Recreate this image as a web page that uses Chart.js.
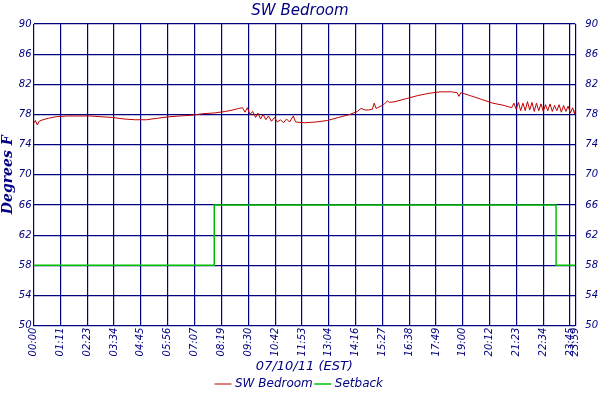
<!DOCTYPE html>
<html>
<head>
<script src="https://cdn.jsdelivr.net/npm/chart.js@4"></script>
<style>body{margin:0;background:#fff}#wrap{width:600px;height:400px}</style>
</head>
<body>
<div id="wrap"><canvas id="c"></canvas></div>
<script>
const tempTimes = [0,5,10,15,25,40,60,90,120,150,180,210,240,270,300,330,360,390,420,450,480,510,530,545,555,562,568,575,582,590,596,603,610,617,624,632,640,648,656,664,672,680,690,696,720,750,780,810,840,860,870,880,890,900,905,910,930,940,945,960,990,1020,1050,1080,1110,1125,1130,1135,1160,1190,1220,1250,1270,1276,1282,1288,1294,1300,1306,1312,1318,1324,1330,1336,1342,1348,1354,1360,1366,1372,1378,1384,1390,1396,1402,1408,1414,1420,1426,1432,1437,1439];
const tempValues = [76.8,77.2,76.6,77.1,77.3,77.5,77.7,77.8,77.8,77.8,77.7,77.6,77.4,77.3,77.3,77.5,77.7,77.8,77.9,78.1,78.2,78.4,78.6,78.8,78.9,78.3,78.9,78.0,78.4,77.6,78.2,77.4,78.0,77.3,77.8,77.1,77.6,77.0,77.3,76.9,77.4,77.0,77.8,77.0,76.9,77.0,77.2,77.6,78.0,78.4,78.8,78.6,78.6,78.7,79.5,78.8,79.3,79.8,79.6,79.7,80.1,80.5,80.8,81.0,81.0,80.9,80.4,80.9,80.5,80.0,79.5,79.2,78.9,79.5,78.7,79.6,78.5,79.5,78.5,79.7,78.6,79.6,78.4,79.5,78.5,79.4,78.4,79.3,78.5,79.4,78.4,79.2,78.5,79.3,78.3,79.2,78.4,79.1,78.2,78.9,78.1,78.6];
const setbackTimes = [0,480,1388,1439];
const setbackValues = [58,66,58,58];
const tickMinutes = [0,71,143,214,285,356,427,499,570,642,713,784,856,927,998,1069,1140,1212,1283,1354,1425,1439];
const tickLabels = ['00:00','01:11','02:23','03:34','04:45','05:56','07:07','08:19','09:30','10:42','11:53','13:04','14:16','15:27','16:38','17:49','19:00','20:12','21:23','22:34','23:45','23:59'];

const navy = '#000080';
const tickFont = {family: 'DejaVu Sans', style: 'italic', size: 10};
const toXY = (xs, ys) => xs.map((x, i) => ({x: x, y: ys[i]}));

new Chart(document.getElementById('c'), {
  type: 'line',
  data: {
    datasets: [{
      label: 'SW Bedroom',
      data: toXY(tempTimes, tempValues),
      borderColor: '#c00000',
      borderWidth: 1,
      pointRadius: 0,
      tension: 0
    }, {
      label: 'Setback',
      data: toXY(setbackTimes, setbackValues),
      borderColor: '#00c000',
      borderWidth: 1.5,
      pointRadius: 0,
      stepped: 'before'
    }]
  },
  options: {
    responsive: true,
    maintainAspectRatio: false,
    animation: false,
    layout: {padding: {left: 0, right: 0, top: 0, bottom: 0}},
    plugins: {
      title: {
        display: true,
        text: 'SW Bedroom',
        color: navy,
        font: {family: 'DejaVu Sans', style: 'italic', weight: 'normal', size: 15},
        padding: {top: 2, bottom: 4}
      },
      legend: {
        position: 'bottom',
        labels: {
          color: navy,
          font: {family: 'DejaVu Sans', style: 'italic', size: 12},
          usePointStyle: true,
          pointStyle: 'line',
          boxWidth: 16,
          padding: 4
        }
      },
      tooltip: {enabled: false}
    },
    scales: {
      x: {
        type: 'linear',
        min: 0,
        max: 1439,
        afterBuildTicks: axis => { axis.ticks = tickMinutes.map(v => ({value: v})); },
        ticks: {
          color: navy,
          font: tickFont,
          maxRotation: 90,
          minRotation: 90,
          autoSkip: false,
          padding: 2,
          callback: (v, i) => tickLabels[i]
        },
        grid: {color: navy, lineWidth: 1.2, drawTicks: false},
        border: {color: navy},
        title: {
          display: true,
          text: '07/10/11 (EST)',
          color: navy,
          font: {family: 'DejaVu Sans', style: 'italic', size: 13},
          padding: {top: 0, bottom: 0}
        }
      },
      y: {
        min: 50,
        max: 90,
        ticks: {stepSize: 4, color: navy, font: tickFont, padding: 2},
        grid: {color: navy, lineWidth: 1.2, drawTicks: false},
        border: {color: navy},
        title: {
          display: true,
          text: 'Degrees F',
          color: navy,
          font: {family: 'DejaVu Serif', style: 'italic', weight: 'bold', size: 14},
          padding: 0
        }
      },
      y2: {
        position: 'right',
        min: 50,
        max: 90,
        ticks: {stepSize: 4, color: navy, font: tickFont, padding: 2},
        grid: {display: false},
        border: {color: navy}
      }
    }
  }
});
</script>
</body>
</html>
